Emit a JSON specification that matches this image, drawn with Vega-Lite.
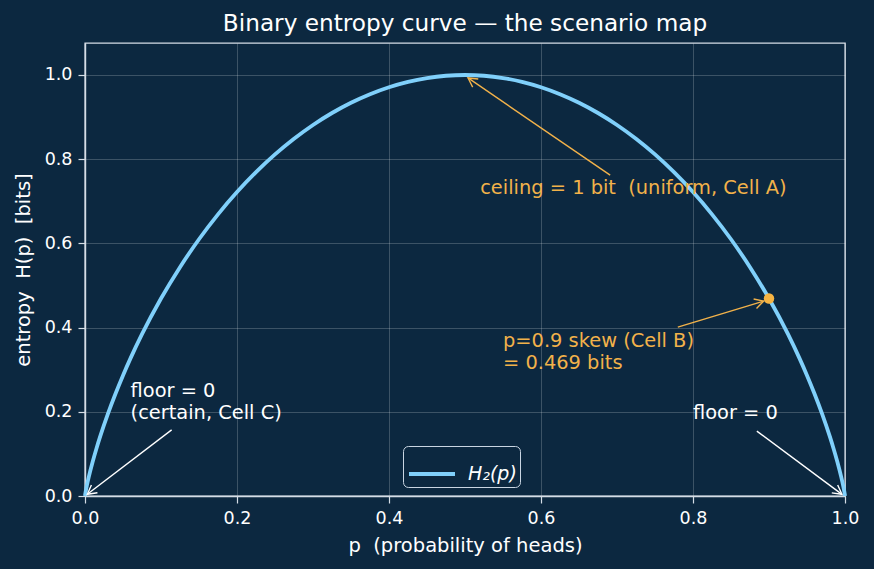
{
  "$schema": "https://vega.github.io/schema/vega-lite/v6.json",
  "autosize": {"type": "none"},
  "width": 760,
  "height": 453,
  "padding": {"left": 85, "top": 43, "right": 29, "bottom": 73},
  "background": "#0c2840",
  "title": {
    "text": "Binary entropy curve — the scenario map",
    "color": "#ffffff",
    "font": "DejaVu Sans",
    "fontSize": 23.2,
    "fontWeight": "normal",
    "anchor": "middle",
    "offset": 7
  },
  "config": {
    "font": "DejaVu Sans",
    "view": {"stroke": "#d5dde6", "strokeWidth": 1.4},
    "axis": {
      "domainColor": "#d5dde6",
      "domainWidth": 1.4,
      "tickColor": "#d5dde6",
      "tickSize": 7,
      "tickWidth": 1.2,
      "labelColor": "#ffffff",
      "labelFont": "DejaVu Sans",
      "labelFontSize": 17.5,
      "labelPadding": 6,
      "labelFlush": false,
      "titleColor": "#ffffff",
      "titleFont": "DejaVu Sans",
      "titleFontSize": 19.5,
      "titleFontWeight": "normal",
      "grid": true,
      "gridColor": "#ffffff",
      "gridOpacity": 0.2,
      "gridWidth": 1
    }
  },
  "datasets": {
    "curve": [
      {"p": 0, "h": 0},
      {"p": 0.0002, "h": 0.00275},
      {"p": 0.001, "h": 0.01141},
      {"p": 0.0025, "h": 0.02521},
      {"p": 0.005, "h": 0.04542},
      {"p": 0.01, "h": 0.08079},
      {"p": 0.015, "h": 0.11236},
      {"p": 0.02, "h": 0.14144},
      {"p": 0.03, "h": 0.19439},
      {"p": 0.04, "h": 0.24229},
      {"p": 0.05, "h": 0.2864},
      {"p": 0.06, "h": 0.32744},
      {"p": 0.075, "h": 0.38431},
      {"p": 0.1, "h": 0.469},
      {"p": 0.125, "h": 0.54356},
      {"p": 0.15, "h": 0.60984},
      {"p": 0.175, "h": 0.66902},
      {"p": 0.2, "h": 0.72193},
      {"p": 0.225, "h": 0.76919},
      {"p": 0.25, "h": 0.81128},
      {"p": 0.275, "h": 0.84855},
      {"p": 0.3, "h": 0.88129},
      {"p": 0.325, "h": 0.90974},
      {"p": 0.35, "h": 0.93407},
      {"p": 0.375, "h": 0.95443},
      {"p": 0.4, "h": 0.97095},
      {"p": 0.425, "h": 0.98371},
      {"p": 0.45, "h": 0.99277},
      {"p": 0.475, "h": 0.9982},
      {"p": 0.5, "h": 1},
      {"p": 0.525, "h": 0.9982},
      {"p": 0.55, "h": 0.99277},
      {"p": 0.575, "h": 0.98371},
      {"p": 0.6, "h": 0.97095},
      {"p": 0.625, "h": 0.95443},
      {"p": 0.65, "h": 0.93407},
      {"p": 0.675, "h": 0.90974},
      {"p": 0.7, "h": 0.88129},
      {"p": 0.725, "h": 0.84855},
      {"p": 0.75, "h": 0.81128},
      {"p": 0.775, "h": 0.76919},
      {"p": 0.8, "h": 0.72193},
      {"p": 0.825, "h": 0.66902},
      {"p": 0.85, "h": 0.60984},
      {"p": 0.875, "h": 0.54356},
      {"p": 0.9, "h": 0.469},
      {"p": 0.925, "h": 0.38431},
      {"p": 0.94, "h": 0.32744},
      {"p": 0.95, "h": 0.2864},
      {"p": 0.96, "h": 0.24229},
      {"p": 0.97, "h": 0.19439},
      {"p": 0.98, "h": 0.14144},
      {"p": 0.985, "h": 0.11236},
      {"p": 0.99, "h": 0.08079},
      {"p": 0.995, "h": 0.04542},
      {"p": 0.9975, "h": 0.02521},
      {"p": 0.999, "h": 0.01141},
      {"p": 0.9998, "h": 0.00275},
      {"p": 1, "h": 0}
    ],
    "arrows": [
      {"name": "ceiling", "tone": "accent", "x": 0.691, "y": 0.762, "x2": 0.504, "y2": 0.993},
      {"name": "skew", "tone": "accent", "x": 0.78, "y": 0.401, "x2": 0.893, "y2": 0.463},
      {"name": "floor-left", "tone": "plain", "x": 0.114, "y": 0.157, "x2": 0.003, "y2": 0.004},
      {"name": "floor-right", "tone": "plain", "x": 0.884, "y": 0.154, "x2": 0.996, "y2": 0.004}
    ],
    "notes": [
      {"name": "ceiling", "tone": "accent", "x": 0.52, "y": 0.708, "label": "ceiling = 1 bit\u00a0 (uniform, Cell A)"},
      {"name": "skew", "tone": "accent", "x": 0.55, "y": 0.345, "label": ["p=0.9 skew (Cell B)", "= 0.469 bits"]},
      {"name": "floor-left", "tone": "plain", "x": 0.06, "y": 0.225, "label": ["floor = 0", "(certain, Cell C)"]},
      {"name": "floor-right", "tone": "plain", "x": 0.8, "y": 0.173, "label": "floor = 0"}
    ],
    "marker": [{"p": 0.9, "h": 0.469}]
  },
  "layer": [
    {
      "data": {"name": "curve"},
      "mark": {"type": "line", "strokeWidth": 3.8, "interpolate": "monotone"},
      "encoding": {
        "x": {
          "field": "p",
          "type": "quantitative",
          "scale": {"domain": [0, 1], "nice": false, "zero": false},
          "axis": {"values": [0, 0.2, 0.4, 0.6, 0.8, 1], "format": ".1f", "title": "p\u00a0 (probability of heads)", "titlePadding": 10, "grid": true}
        },
        "y": {
          "field": "h",
          "type": "quantitative",
          "scale": {"domain": [0, 1.076], "nice": false},
          "axis": {"values": [0, 0.2, 0.4, 0.6, 0.8, 1], "format": ".1f", "title": "entropy\u00a0 H(p)\u00a0 [bits]", "titlePadding": 11, "grid": true}
        },
        "color": {
          "datum": "H₂(p)",
          "type": "nominal",
          "scale": {"range": ["#80d0fb"]},
          "legend": {
            "title": null,
            "orient": "none",
            "legendX": 318,
            "legendY": 403,
            "symbolType": "stroke",
            "symbolSize": 2116,
            "symbolStrokeWidth": 3.8,
            "symbolOffset": 1,
            "labelFont": "DejaVu Sans",
            "labelFontSize": 19,
            "labelFontStyle": "italic",
            "labelColor": "#ffffff",
            "labelOffset": 11,
            "padding": 3,
            "strokeColor": "#c9d5e2",
            "fillColor": "#0c2840",
            "cornerRadius": 5,
            "labelExpr": "datum.label + '\u00a0\u00a0'"
          }
        }
      }
    },
    {
      "mark": {"type": "rule", "color": "#f2b24a", "strokeWidth": 1.6, "strokeDash": [6, 3.5]},
      "encoding": {"y": {"datum": 1, "type": "quantitative"}}
    },
    {
      "data": {"name": "marker"},
      "mark": {"type": "point", "filled": true, "opacity": 1, "size": 110, "color": "#f6b443"},
      "encoding": {
        "x": {"field": "p", "type": "quantitative"},
        "y": {"field": "h", "type": "quantitative"}
      }
    },
    {
      "data": {"name": "arrows"},
      "mark": {"type": "rule", "strokeWidth": 1.4},
      "encoding": {
        "x": {"field": "x", "type": "quantitative"},
        "y": {"field": "y", "type": "quantitative"},
        "x2": {"field": "x2"},
        "y2": {"field": "y2"},
        "stroke": {
          "field": "tone",
          "type": "nominal",
          "scale": {"domain": ["accent", "plain"], "range": ["#f2b24a", "#ffffff"]},
          "legend": null
        }
      }
    },
    {
      "data": {"name": "arrows"},
      "transform": [
        {"calculate": "atan2(-(datum.y2 - datum.y) * 453 / 1.076, (datum.x2 - datum.x) * 760) * 180 / PI", "as": "heading"}
      ],
      "mark": {"type": "point", "shape": "M-1,-0.55L0,0L-1,0.55", "filled": false, "strokeWidth": 1.4, "opacity": 1, "size": 324},
      "encoding": {
        "x": {"field": "x2", "type": "quantitative"},
        "y": {"field": "y2", "type": "quantitative"},
        "angle": {"field": "heading", "type": "quantitative", "scale": null},
        "stroke": {
          "field": "tone",
          "type": "nominal",
          "scale": {"domain": ["accent", "plain"], "range": ["#f2b24a", "#ffffff"]},
          "legend": null
        }
      }
    },
    {
      "data": {"name": "notes"},
      "mark": {"type": "text", "align": "left", "baseline": "bottom", "font": "DejaVu Sans", "fontSize": 19.4, "lineHeight": 22},
      "encoding": {
        "x": {"field": "x", "type": "quantitative"},
        "y": {"field": "y", "type": "quantitative"},
        "text": {"field": "label"},
        "fill": {
          "field": "tone",
          "type": "nominal",
          "scale": {"domain": ["accent", "plain"], "range": ["#f2b24a", "#ffffff"]},
          "legend": null
        }
      }
    }
  ]
}
